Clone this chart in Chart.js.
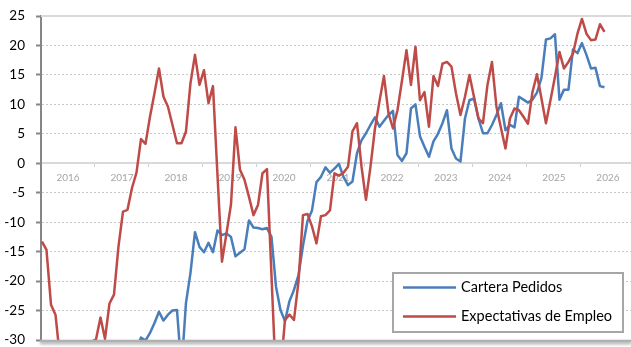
<!DOCTYPE html>
<html>
<head>
<meta charset="utf-8">
<script src="https://cdn.jsdelivr.net/npm/chart.js@4"></script>
<style>
  html, body { margin: 0; padding: 0; background: #fff; }
  #wrap { width: 631px; height: 347px; }
</style>
</head>
<body>
<div id="wrap"><canvas id="grafico" width="631" height="347"></canvas></div>
<script>
// años del eje (una etiqueta por año, centrada en su tramo)
const years = ['2016', '2017', '2018', '2019', '2020', '2021', '2022', '2023', '2024', '2025', '2026'];

// series mensuales (saldos), primer mes = inicio de 2016
const cartera = [
  null, null, null, null, null, null, null, null, null, null, null, null,
  null, null, null, null, null, null, null, null, null, -31.5, -29.6, -30.1,
  -28.8, -27.1, -25.2, -26.7, -25.7, -25.0, -24.9, -35.0, -23.7, -18.6, -11.7, -14.2,
  -15.1, -13.5, -15.1, -11.4, -12.2, -11.9, -12.5, -15.8, -15.2, -14.6, -9.7, -10.9,
  -11.0, -11.2, -11.0, -12.5, -20.9, -24.9, -26.8, -23.4, -21.5, -19.0, -14.0, -9.8,
  -8.0, -3.2, -2.3, -0.7, -1.6, -0.9, -0.1, -2.3, -3.7, -3.1, 1.7, 3.9,
  5.1, 6.5, 7.8, 6.2, 7.2, 8.2, 8.9, 1.4, 0.4, 1.7, 9.3, 10.0,
  4.6, 2.8, 1.1, 3.7, 5.0, 6.8, 9.0, 2.5, 0.8, 0.3, 7.6, 10.7,
  11.0, 7.6, 5.1, 5.1, 6.5, 8.2, 10.2, 5.6, 6.5, 6.1, 11.3, 10.8,
  10.3, 10.8, 12.0, 14.5, 21.0, 21.2, 21.9, 10.8, 12.5, 12.5, 19.3, 18.7,
  20.4, 18.4, 16.1, 16.2, 13.1, 12.9
];

const empleo = [
  -13.3, -14.7, -24.0, -25.7, -33.0, -36.0, -38.0, -37.5, -36.0, -34.5, -32.5, -30.3,
  -29.9, -26.2, -29.8, -23.8, -22.3, -14.1, -8.2, -7.9, -4.2, -1.6, 4.1, 3.3,
  7.9, 11.9, 16.1, 11.3, 9.6, 6.5, 3.4, 3.4, 5.4, 13.6, 18.4, 13.3,
  15.8, 10.2, 13.1, -2.0, -16.7, -11.9, -7.0, 6.1, -1.1, -2.8, -5.7, -8.8,
  -7.1, -1.7, -1.0, -19.0, -37.0, -35.5, -26.6, -25.7, -26.6, -20.1, -8.8, -8.6,
  -10.7, -13.6, -9.0, -8.8, -8.0, -1.7, -2.1, -1.6, -0.6, 5.4, 6.8, -0.5,
  -6.2, -0.6, 5.9, 10.5, 14.8, 8.5, 5.9, 9.0, 14.0, 19.2, 13.3, 19.8,
  10.7, 12.1, 6.2, 14.8, 13.1, 16.9, 17.2, 16.4, 11.9, 8.2, 11.3, 15.0,
  11.3, 7.6, 6.8, 13.3, 17.2, 9.6, 6.0, 2.5, 7.6, 9.3, 9.0, 7.9,
  6.7, 12.1, 15.1, 11.0, 6.8, 10.7, 14.7, 18.9, 16.1, 17.2, 18.6, 22.0,
  24.5, 22.0, 20.9, 21.0, 23.6, 22.3
];

const seriesNames = ['Cartera Pedidos', 'Expectativas de Empleo'];
const seriesColors = ['#4a7ebb', '#be4b48'];

const yMin = -30, yMax = 25, yStep = 5;
const xFirst = -0.22;   // arranque del primer tramo anual
const xLast = 130.9;

const FONT = 'Lato, "Open Sans", sans-serif';

// líneas sólidas arriba y abajo del área (la de abajo con sombra)
const frame = {
  id: 'frame',
  beforeDatasetsDraw(chart) {
    const { ctx, chartArea } = chart;
    ctx.save();
    ctx.strokeStyle = '#d9d9d9';
    ctx.lineWidth = 2;
    ctx.beginPath();
    ctx.moveTo(chartArea.left, chartArea.top);
    ctx.lineTo(chartArea.right, chartArea.top);
    ctx.stroke();
    ctx.restore();
  },
  afterDatasetsDraw(chart) {
    const { ctx, chartArea } = chart;
    ctx.save();
    ctx.strokeStyle = '#b0b0b0';
    ctx.lineWidth = 2.5;
    ctx.shadowColor = 'rgba(0,0,0,0.35)';
    ctx.shadowBlur = 3;
    ctx.shadowOffsetY = 2;
    ctx.beginPath();
    ctx.moveTo(chartArea.left - 1, chartArea.bottom + 1);
    ctx.lineTo(chartArea.right, chartArea.bottom + 1);
    ctx.stroke();
    ctx.restore();
  }
};

// leyenda en recuadro, esquina inferior derecha
const legendBox = {
  id: 'legendBox',
  afterDraw(chart) {
    const { ctx, chartArea } = chart;
    const w = 230, h = 59;
    const x = chartArea.right - 8 - w;
    const y = chartArea.bottom - 8 - h;
    ctx.save();
    ctx.fillStyle = '#fff';
    ctx.fillRect(x, y, w, h);
    ctx.strokeStyle = '#a6a6a6';
    ctx.lineWidth = 2;
    ctx.strokeRect(x, y, w, h);
    chart.data.datasets.forEach((ds, i) => {
      const ly = y + 14.5 + i * 29;
      ctx.strokeStyle = ds.borderColor;
      ctx.lineWidth = 2.5;
      ctx.beginPath();
      ctx.moveTo(x + 10, ly);
      ctx.lineTo(x + 63, ly);
      ctx.stroke();
      ctx.fillStyle = '#000';
      ctx.font = '14.5px ' + FONT;
      ctx.textBaseline = 'middle';
      ctx.fillText(ds.label, x + 68, ly);
    });
    ctx.restore();
  }
};

const toPoints = arr => arr.map((v, i) => ({ x: i, y: v }));

// que ningún eje reserve margen extra por sus rótulos
const noPadding = scale => {
  scale.paddingTop = 0;
  scale.paddingBottom = 0;
};

new Chart(document.getElementById('grafico'), {
  type: 'line',
  data: {
    datasets: [
      {
        label: seriesNames[0],
        data: toPoints(cartera),
        borderColor: seriesColors[0],
        order: 1
      },
      {
        label: seriesNames[1],
        data: toPoints(empleo),
        borderColor: seriesColors[1],
        order: 0
      }
    ]
  },
  options: {
    responsive: false,
    animation: false,
    devicePixelRatio: 1,
    layout: { padding: { top: 16, bottom: 7, left: 0, right: 0 } },
    elements: {
      line: { borderWidth: 2.5, tension: 0, borderJoinStyle: 'round', fill: false },
      point: { radius: 0 }
    },
    plugins: {
      legend: { display: false },
      tooltip: { enabled: false }
    },
    scales: {
      x: {
        type: 'linear',
        min: xFirst,
        max: xLast,
        position: { y: 0 },
        afterBuildTicks: scale => {
          scale.ticks = years.map((_, k) => ({ value: xFirst + 12 * k }));
        },
        afterFit: scale => {
          noPadding(scale);
          scale.paddingLeft = 0;
          scale.paddingRight = 0;
        },
        ticks: {
          autoSkip: false,
          maxRotation: 0,
          labelOffset: 27,
          padding: 6,
          color: '#a6a6a6',
          font: { family: FONT, size: 10 },
          callback: (v, i) => years[i]
        },
        grid: {
          drawOnChartArea: false,
          tickLength: 3,
          tickColor: '#d0d0d0',
          tickWidth: 1
        },
        border: { color: '#d9d9d9', width: 2 }
      },
      y: {
        min: yMin,
        max: yMax,
        afterFit: scale => {
          scale.width = 41;
          noPadding(scale);
        },
        ticks: {
          stepSize: yStep,
          padding: 11,
          color: '#000',
          font: { family: FONT, size: 13.5 }
        },
        grid: {
          color: '#c8c8c8',
          lineWidth: 1,
          tickLength: 5,
          tickColor: '#868686',
          tickWidth: 2
        },
        border: { color: '#868686', width: 2, dash: [2, 2] }
      }
    }
  },
  plugins: [frame, legendBox]
});
</script>
</body>
</html>
